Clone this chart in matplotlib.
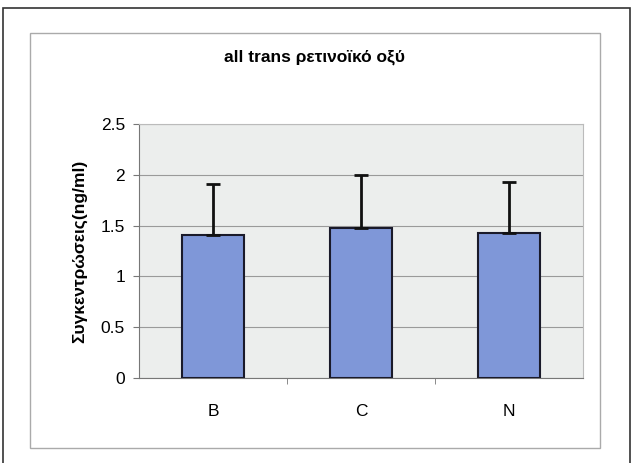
import matplotlib
matplotlib.use('Agg')
import matplotlib.pyplot as plt
from matplotlib.patches import Rectangle
import numpy as np

# Mean concentration and upper error per group
groups = ['B', 'C', 'N']
means = [1.41, 1.48, 1.43]
errors = [0.50, 0.52, 0.50]
yticks = [0, 0.5, 1, 1.5, 2, 2.5]
ytick_labels = ['0', '0.5', '1', '1.5', '2', '2.5']

W, H = 633, 463
fig = plt.figure(figsize=(W / 100, H / 100), dpi=100)
fig.patch.set_facecolor('white')
plt.rcParams['font.family'] = ['Liberation Sans', 'DejaVu Sans']

# outer page frame and the chart-area frame
fig.patches.append(Rectangle((3 / W, -0.01), 627 / W, 1.01 - 8 / H, transform=fig.transFigure,
                             fill=False, edgecolor='#333333', linewidth=1.2))
fig.patches.append(Rectangle((30 / W, 1 - 448 / H), 570 / W, 415 / H, transform=fig.transFigure,
                             fill=False, edgecolor='#aaaaaa', linewidth=1.0))

ax = fig.add_axes([139 / W, 1 - 378 / H, 444 / W, 254 / H])
ax.set_facecolor('#eceeed')

x = np.arange(len(groups))
ax.bar(x, means, width=0.42, color='#7f97d8', edgecolor='#1a1a2a', linewidth=1.5, zorder=3)
ax.errorbar(x, means, yerr=[np.zeros(len(errors)), errors], fmt='none',
            ecolor='#111111', elinewidth=2, capsize=5, capthick=2, zorder=4)

ax.set_xlim(-0.5, len(groups) - 0.5)
ax.set_ylim(0, 2.5)
ax.set_yticks(yticks)
ax.set_yticklabels(ytick_labels, fontsize=12.5)
ax.set_xticks(x)
ax.set_xticklabels(groups, fontsize=12.5)
ax.tick_params(axis='x', length=0, pad=19)
ax.tick_params(axis='y', length=4, color='#777777', pad=6)
ax.set_xticks([0.5, 1.5], minor=True)
ax.tick_params(axis='x', which='minor', length=4, color='#777777', direction='out')
ax.grid(axis='y', color='#9a9a9a', linewidth=0.8, zorder=0)
for s in ['top', 'right']:
    ax.spines[s].set_color('#bbbbbb')
for s in ['left', 'bottom']:
    ax.spines[s].set_color('#777777')

ax.set_ylabel('Συγκεντρώσεις(ng/ml)', fontsize=12.5, fontweight='bold', labelpad=10)
fig.text(315 / W, 1 - 57 / H, 'all trans ρετινοϊκό οξύ', ha='center', va='center',
         fontsize=12.5, fontweight='bold')

fig.savefig('out.png', dpi=100)
